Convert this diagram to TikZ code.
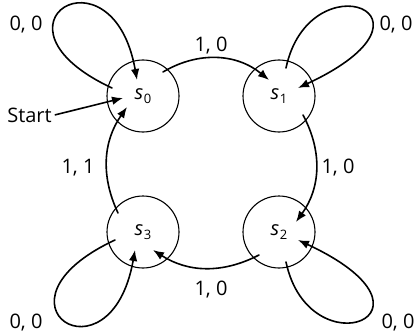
\documentclass[tikz,border=0pt]{standalone}
\usepackage{fontspec}
\setmainfont{Open Sans}
\usetikzlibrary{arrows.meta}
\newcommand{\sname}[1]{\textit{s}\kern0.5pt\raisebox{-4pt}{\fontsize{13}{13}\selectfont #1}}

\begin{document}
\begin{tikzpicture}[x=1pt,y=1pt,>={Latex[length=11pt,width=8.5pt]}, font=\fontsize{20}{24}\selectfont, line join=round, line cap=round,
        state/.style={draw,circle,line width=1.1pt,minimum size=72pt,inner sep=0pt},
        edge/.style={->,line width=1.6pt},
        lab/.style={anchor=base,inner sep=0pt}]
        \useasboundingbox (0,0) rectangle (416,333);
        \node[state] (s0) at (143,237) {\sname{0}};
        \node[state] (s1) at (279,237) {\sname{1}};
        \node[state] (s2) at (279,101) {\sname{2}};
        \node[state] (s3) at (143,101) {\sname{3}};
        \draw[edge] ([shift={(20,24)}]s0.center) to[bend left=35] ([shift={(-10,16)}]s1.center);
        \draw[edge] ([shift={(24,-19)}]s1.center) to[bend left=32] ([shift={(17,10)}]s2.center);
        \draw[edge] ([shift={(-20,-23)}]s2.center) to[bend left=30] ([shift={(10,-18)}]s3.center);
        \draw[edge] ([shift={(-25,19)}]s3.center) to[bend left=30] ([shift={(-16,-11)}]s0.center);
        \draw[edge] ([shift={(-31,8)}]s0.center) .. controls +(155:150) and +(100:140) .. ([shift={(-6,16)}]s0.center);
        \draw[edge] ([shift={(7,28)}]s1.center) .. controls +(78:112) and +(25:175) .. ([shift={(19,8)}]s1.center);
        \draw[edge] ([shift={(7,-30)}]s2.center) .. controls +(-78:112) and +(-25:175) .. ([shift={(19,-8)}]s2.center);
        \draw[edge] ([shift={(-28,-8)}]s3.center) .. controls +(-155:150) and +(-100:140) .. ([shift={(-8,-18)}]s3.center);
        \node[anchor=base] (start) at (29.5,211) {Start};
        \draw[edge] (start.east) -- ([shift={(-20,-2)}]s0.center);
        \node[lab] (l01) at (211,282) {1, 0};
        \node[lab] (l12) at (338,160) {1, 0};
        \node[lab] (l23) at (211,38) {1, 0};
        \node[lab] (l30) at (78,160) {1, 1};
        \node[lab] (l00) at (26,302) {0, 0};
        \node[lab] (l11) at (396,302) {0, 0};
        \node[lab] (l22) at (398,5) {0, 0};
        \node[lab] (l33) at (26,5) {0, 0};
\end{tikzpicture}
\end{document}
